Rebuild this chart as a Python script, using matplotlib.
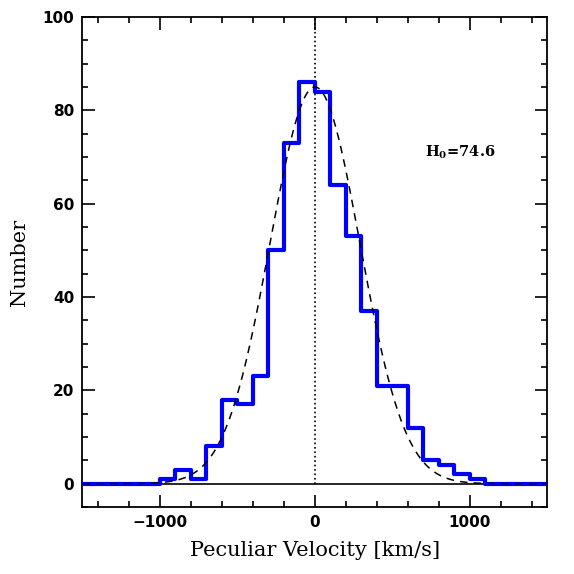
import numpy as np
import matplotlib
matplotlib.use("Agg")
import matplotlib.pyplot as plt
from matplotlib.ticker import MultipleLocator

# histogram: bin edges every 100 km/s, counts
bin_edges = np.arange(-1000, 1101, 100)
counts = [1, 3, 1, 8, 18, 17, 23, 50, 73, 86, 84, 64, 53, 37, 21, 21, 12, 5, 4, 2, 1]

# gaussian fit (dashed)
fit_amp = 85.0
fit_mean = 0.0
fit_sigma = 290.0

label_text = r"H$_\mathbf{0}$=74.6"

plt.rcParams['font.family'] = ['DejaVu Serif']
plt.rcParams['mathtext.fontset'] = 'dejavuserif'

fig = plt.figure(figsize=(5.74, 5.74), dpi=100)
ax = fig.add_axes([0.1437, 0.1167, 0.8101, 0.8537])

# zero line and dotted line at v=0
ax.axhline(0, color='k', lw=1.2, zorder=1)
ax.plot([0, 0], [0, 100], color='k', ls=':', lw=1.2, zorder=1)

# step histogram, padded with zero out to the axis limits
xs = np.concatenate(([-1500], bin_edges, [1500]))
ys = np.concatenate(([0], counts, [0, 0]))
ax.step(xs, ys, where='post', color='#0000ff', lw=3.0, zorder=3)

v = np.linspace(-1500, 1500, 600)
g = fit_amp * np.exp(-0.5 * ((v - fit_mean) / fit_sigma) ** 2)
ax.plot(v, g, 'k', ls=(0, (5, 4)), lw=1.1, zorder=4)

ax.text(710, 71, label_text, fontsize=10.5, fontweight='bold', ha='left', va='center')

ax.set_xlim(-1500, 1500)
ax.set_ylim(-5, 100)
ax.xaxis.set_major_locator(MultipleLocator(1000))
ax.xaxis.set_minor_locator(MultipleLocator(200))
ax.yaxis.set_major_locator(MultipleLocator(20))
ax.yaxis.set_minor_locator(MultipleLocator(5))
ax.tick_params(which='both', direction='in', top=True, right=True, width=1.2)
ax.tick_params(which='major', length=9, pad=6)
ax.tick_params(which='minor', length=4.5)
for s in ax.spines.values():
    s.set_linewidth(1.3)

ax.set_xticks([-1000, 0, 1000])
ax.set_xticklabels(['\u22121000', '0', '1000'])
for lab in ax.get_xticklabels() + ax.get_yticklabels():
    lab.set_family('DejaVu Sans')
    lab.set_fontweight('bold')
    lab.set_fontsize(11)
ax.set_xlabel("Peculiar Velocity [km/s]", fontsize=15, labelpad=8)
ax.set_ylabel("Number", fontsize=15, labelpad=10)

fig.savefig("out.png", dpi=100)
